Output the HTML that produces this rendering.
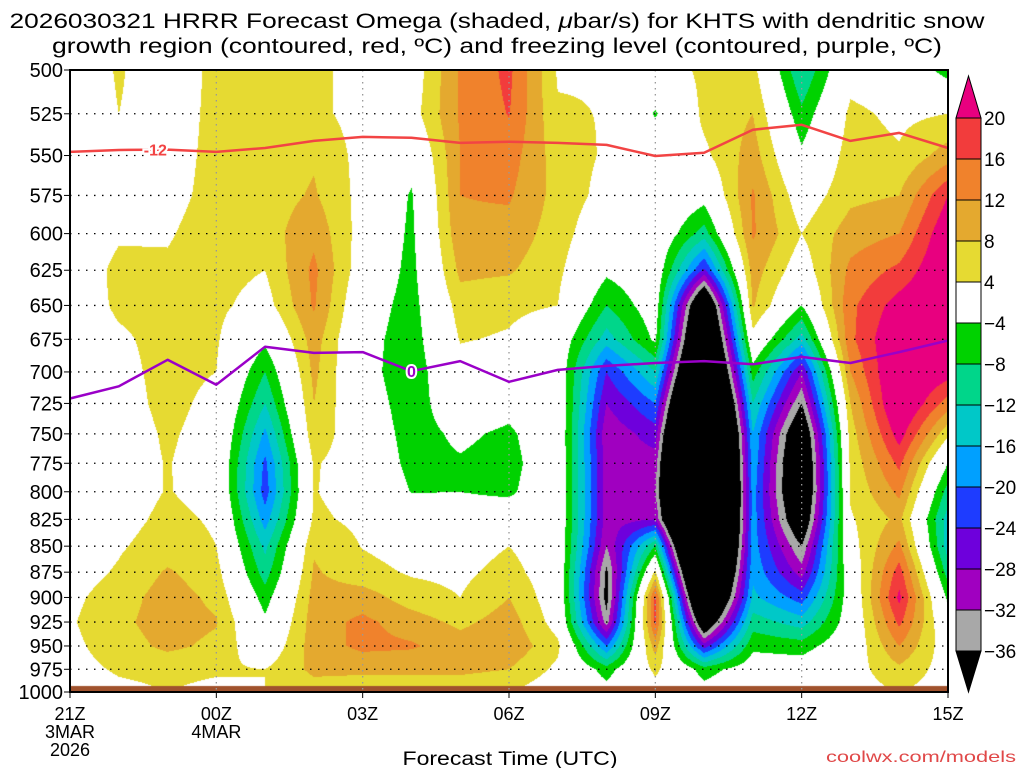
<!DOCTYPE html>
<html><head><meta charset="utf-8">
<style>
html,body{margin:0;padding:0;background:#fff;width:1024px;height:768px;overflow:hidden}
#wrap{position:relative;width:1024px;height:768px}
canvas,svg{position:absolute;left:0;top:0}
text{font-family:"Liberation Sans",sans-serif}
</style></head><body>
<div id="wrap">
<canvas id="cv" width="1024" height="768"></canvas>
<svg id="sv" width="1024" height="768"></svg>
</div>
<script>
const levels=[500,525,550,575,600,625,650,675,700,725,750,775,800,825,850,875,900,925,950,975,1000];
const hourLabels=["21Z","","","00Z","","","03Z","","","06Z","","","09Z","","","12Z","","","15Z"];
const dateLabels=[["3MAR","2026"],[],[],["4MAR"]];
const cbLevels=[20,16,12,8,4,-4,-8,-12,-16,-20,-24,-28,-32,-36];
const omega=[
[1,1,1,1,1,1,2,2,1,1,1,1,1,1,1,2,3,3.5,3,2.5,1],
[4.4,4,2.5,2.5,3.5,5,4.5,3.5,3,2.5,2,2,2,2.5,3.5,4.5,6,7,6,4.5,3],
[1.5,2,2.5,3,3.7,4.5,5,5,5,5,4.5,4.2,4.2,5,6,8.5,10,10,9,5,4],
[5,5,5,5,5.5,5.5,5,4.5,4,3,2.5,2,2.5,3.5,4,5.5,7,8.3,7,4.5,3],
[5.5,5.5,6,6,6,4,2,-3,-8,-12,-17,-21,-22,-18,-13,-10,-6,-3,0,4,4],
[5,5,7.5,8.5,11,13,12.5,10,9,8,7,4.5,4.2,4.8,7.5,8.5,9.5,10,10,9,6],
[2.5,2.5,2.5,2.5,2,1,-1,-2,-2,-1,0,1,2,3,3.8,5.5,10,13,13,9,5],
[1,2,-2,-4.5,-5,-5.5,-6,-6.5,-7,-6.5,-6,-5.5,-4.2,0,2,3.5,6,10,12.5,9,5],
[12.5,12.5,12,12,11,9,6,4.3,2,0,-3,-4.5,-4,-1,2,3,4,7,10,9,5],
[17,16.2,14,12.5,10.5,8.5,5,3.5,1,-2,-5,-6,-5,0,4,5.5,8,10,11,8,4],
[3.5,4.5,6,6.5,6,5,4,0,0,1,1,1,1,1,1,1,1,2,5,3,1],
[3.8,3.8,3.5,2.5,0,-3,-8,-14,-24,-28,-31,-30,-30,-30,-32,-37,-38,-34,-20,-6,-2],
[1,-4.5,1,2,1,0,-1,-3,-12,-20,-26,-30,-32,-28,-8,5,17,17,10,5,2],
[5,5,3,-2,-10,-25,-50,-58,-65,-75,-85,-90,-90,-88,-80,-70,-60,-45,-26,-6,-2],
[5.5,8,10,12.5,12.5,10,8.5,2,-6,-12,-16,-17,-18,-18,-18,-17,-15,-10,-5,-1,1],
[-12,-7,-3,1,4,1,-4,-14,-28,-36,-45,-48,-48,-44,-36,-30,-22,-14,-6,-1,1],
[2,5,6,7,10,13,15,15,12,8,6,5,4.5,3.5,2,0,-1,-1,0,2,2],
[1,3,4.5,8,12,17,22,25,26,26,22,17,13,9,13,18,21,17,12,7,4],
[-6,4,10,20,24,25,25,23,22,14,5,-4,-10,-14,-14,-10,-5,-1,1,2,2]
];
const redLine=[547.8,546.6,546.4,547.8,545.4,541.1,538.7,539.2,542.3,541.6,542.3,543.5,550.3,548.3,534.4,531.5,541.1,536.3,545.4];
const purpleLine=[721,711.3,690.6,710,680.6,685.3,684.7,699.4,691.6,707.7,698.4,695.3,693.1,691.6,694.1,688.4,693.1,684.7,675.9];

const X0=70,X1=948,Y0=70,Y1=692,NH=18;
function xs(h){return X0+h*(X1-X0)/NH;}
function ys(p){return Y0+Math.log(p/500)/Math.LN2*(Y1-Y0);}
const shadeColors=["#e8007f","#f23c3c","#f0822c","#e4a92f","#e6da32","#ffffff","#00d200","#00d68a","#00c8c8","#00a0ff","#1e3cff","#6e00dc","#a000c0","#a8a8a8","#000000"];
function colorFor(v){
  if(v>=20)return 0;if(v>=16)return 1;if(v>=12)return 2;if(v>=8)return 3;if(v>=4)return 4;
  if(v>-4)return 5;if(v>-8)return 6;if(v>-12)return 7;if(v>-16)return 8;if(v>-20)return 9;
  if(v>-24)return 10;if(v>-28)return 11;if(v>-32)return 12;if(v>-36)return 13;return 14;}
const shadeRgb=shadeColors.map(c=>[parseInt(c.substr(1,2),16),parseInt(c.substr(3,2),16),parseInt(c.substr(5,2),16)]);

const cv=document.getElementById('cv'),ctx=cv.getContext('2d');
const img=ctx.createImageData(X1-X0,Y1-Y0);
for(let py=0;py<Y1-Y0;py++){
  const p=500*Math.pow(2,(py+0.5)/(Y1-Y0));
  let li=(p-levels[0])/(levels[1]-levels[0]);let l0=Math.min(Math.floor(li),levels.length-2);let fl=li-l0;
  for(let px=0;px<X1-X0;px++){
    const h=(px+0.5)*NH/(X1-X0);let h0=Math.min(Math.floor(h),NH-1);let fh=h-h0;
    const v=(omega[h0][l0]*(1-fl)+omega[h0][l0+1]*fl)*(1-fh)+(omega[h0+1][l0]*(1-fl)+omega[h0+1][l0+1]*fl)*fh;
    const c=shadeRgb[colorFor(v)];const k=(py*(X1-X0)+px)*4;
    img.data[k]=c[0];img.data[k+1]=c[1];img.data[k+2]=c[2];img.data[k+3]=255;}
}
ctx.putImageData(img,X0,Y0);
ctx.fillStyle="#a0522d";ctx.fillRect(X0,686,X1-X0,Y1-686);

const sv=document.getElementById('sv');const NS="http://www.w3.org/2000/svg";
function mk(tag,attrs,txt){const e=document.createElementNS(NS,tag);for(const k in attrs)e.setAttribute(k,attrs[k]);if(txt!==undefined)e.textContent=txt;sv.appendChild(e);return e;}

levels.forEach((p,i)=>{
  if(i>0){const g=mk('line',{x1:X0,x2:X1,y1:ys(p),y2:ys(p),stroke:"#000","stroke-width":1.3,"stroke-dasharray":"1.5 6.5"});
  
  }
  const t=mk('line',{x1:X0-6,x2:X0,y1:ys(p),y2:ys(p),stroke:"#000","stroke-width":1});
  
  
  const l=mk('text',{x:X0-7,y:ys(p)+7,"text-anchor":"end","font-size":20,fill:"#000"},String(p));
  
  
});
hourLabels.forEach((lab,h)=>{
  if(!lab)return;
  if(h>0&&h<NH){const g=mk('line',{x1:xs(h),x2:xs(h),y1:Y0,y2:Y1,stroke:"#999","stroke-width":1.3,"stroke-dasharray":"1.5 4.5"});
  
  }
  const t=mk('line',{x1:xs(h),x2:xs(h),y1:Y1,y2:Y1+6,stroke:"#000","stroke-width":1});
  
  
  const l=mk('text',{x:xs(h),y:720,"text-anchor":"middle","font-size":18,fill:"#000"},lab);
  
  
  const d=dateLabels[h]||[];
  d.forEach((s,j)=>{const e=mk('text',{x:xs(h),y:738+j*18,"text-anchor":"middle","font-size":18,fill:"#000"},s);
    
    });
});
function poly(arr,color,name){
  const pts=arr.map((p,h)=>xs(h).toFixed(1)+","+ys(p).toFixed(1)).join(" ");
  const e=mk('polyline',{points:pts,fill:"none",stroke:color,"stroke-width":2.5,"stroke-linejoin":"round"});
  
  
}
poly(redLine,"#f24444","dgz-minus12-contour");
poly(purpleLine,"#9a00c8","freezing-level-contour");
function clabel(h,arr,txt,color,name){
  const f=h%1,a=Math.floor(h),b=Math.min(Math.ceil(h),NH);
  const x=xs(h),y=ys(arr[a]*(1-f)+arr[b]*f);
  const t=mk('text',{x:x,y:y+6,"text-anchor":"middle","font-size":16,"font-weight":"bold",fill:color,stroke:"#fff","stroke-width":4,"paint-order":"stroke"},txt);
  
  
}
clabel(1.75,redLine,"-12","#f24444","dgz-contour-label");
clabel(7,purpleLine,"0","#9a00c8","freezing-contour-label");
const fr=mk('rect',{x:X0,y:Y0,width:X1-X0,height:Y1-Y0,fill:"none",stroke:"#000","stroke-width":2});


const CBX=956,CBW=25,CBT=118,CBB=651,bh=(CBB-CBT)/(cbLevels.length-1);
const cbTop=mk('polygon',{points:`${CBX},${CBT} ${CBX+CBW},${CBT} ${CBX+CBW/2},76`,fill:shadeColors[0],stroke:"#000","stroke-width":1});


for(let i=0;i<cbLevels.length-1;i++){
  const r=mk('rect',{x:CBX,y:CBT+i*bh,width:CBW,height:bh,fill:shadeColors[i+1],stroke:"#000","stroke-width":1});
  
  
}
const cbBot=mk('polygon',{points:`${CBX},${CBB} ${CBX+CBW},${CBB} ${CBX+CBW/2},692`,fill:"#000",stroke:"#000","stroke-width":1});


cbLevels.forEach((v,i)=>{
  const t=mk('text',{x:984,y:CBT+i*bh+7,"font-size":19,fill:"#000"},(v<0?"\u2212":"")+Math.abs(v));
  
  
});
</script>
<svg width="1024" height="768" style="position:absolute;left:0;top:0">
<text x="497" y="28" text-anchor="middle" font-size="21" fill="#000" textLength="975" lengthAdjust="spacingAndGlyphs">2026030321 HRRR Forecast Omega (shaded, <tspan font-style="italic">μ</tspan>bar/s) for KHTS with dendritic snow</text>
<text x="497" y="53" text-anchor="middle" font-size="21" fill="#000" textLength="890" lengthAdjust="spacingAndGlyphs">growth region (contoured, red, ºC) and freezing level (contoured, purple, ºC)</text>
<text x="510" y="765" text-anchor="middle" font-size="19" fill="#000" textLength="215" lengthAdjust="spacingAndGlyphs">Forecast Time (UTC)</text>
<text x="1016" y="762" text-anchor="end" font-size="16" fill="#e04848" textLength="190" lengthAdjust="spacingAndGlyphs">coolwx.com/models</text>
</svg>
</body></html>
